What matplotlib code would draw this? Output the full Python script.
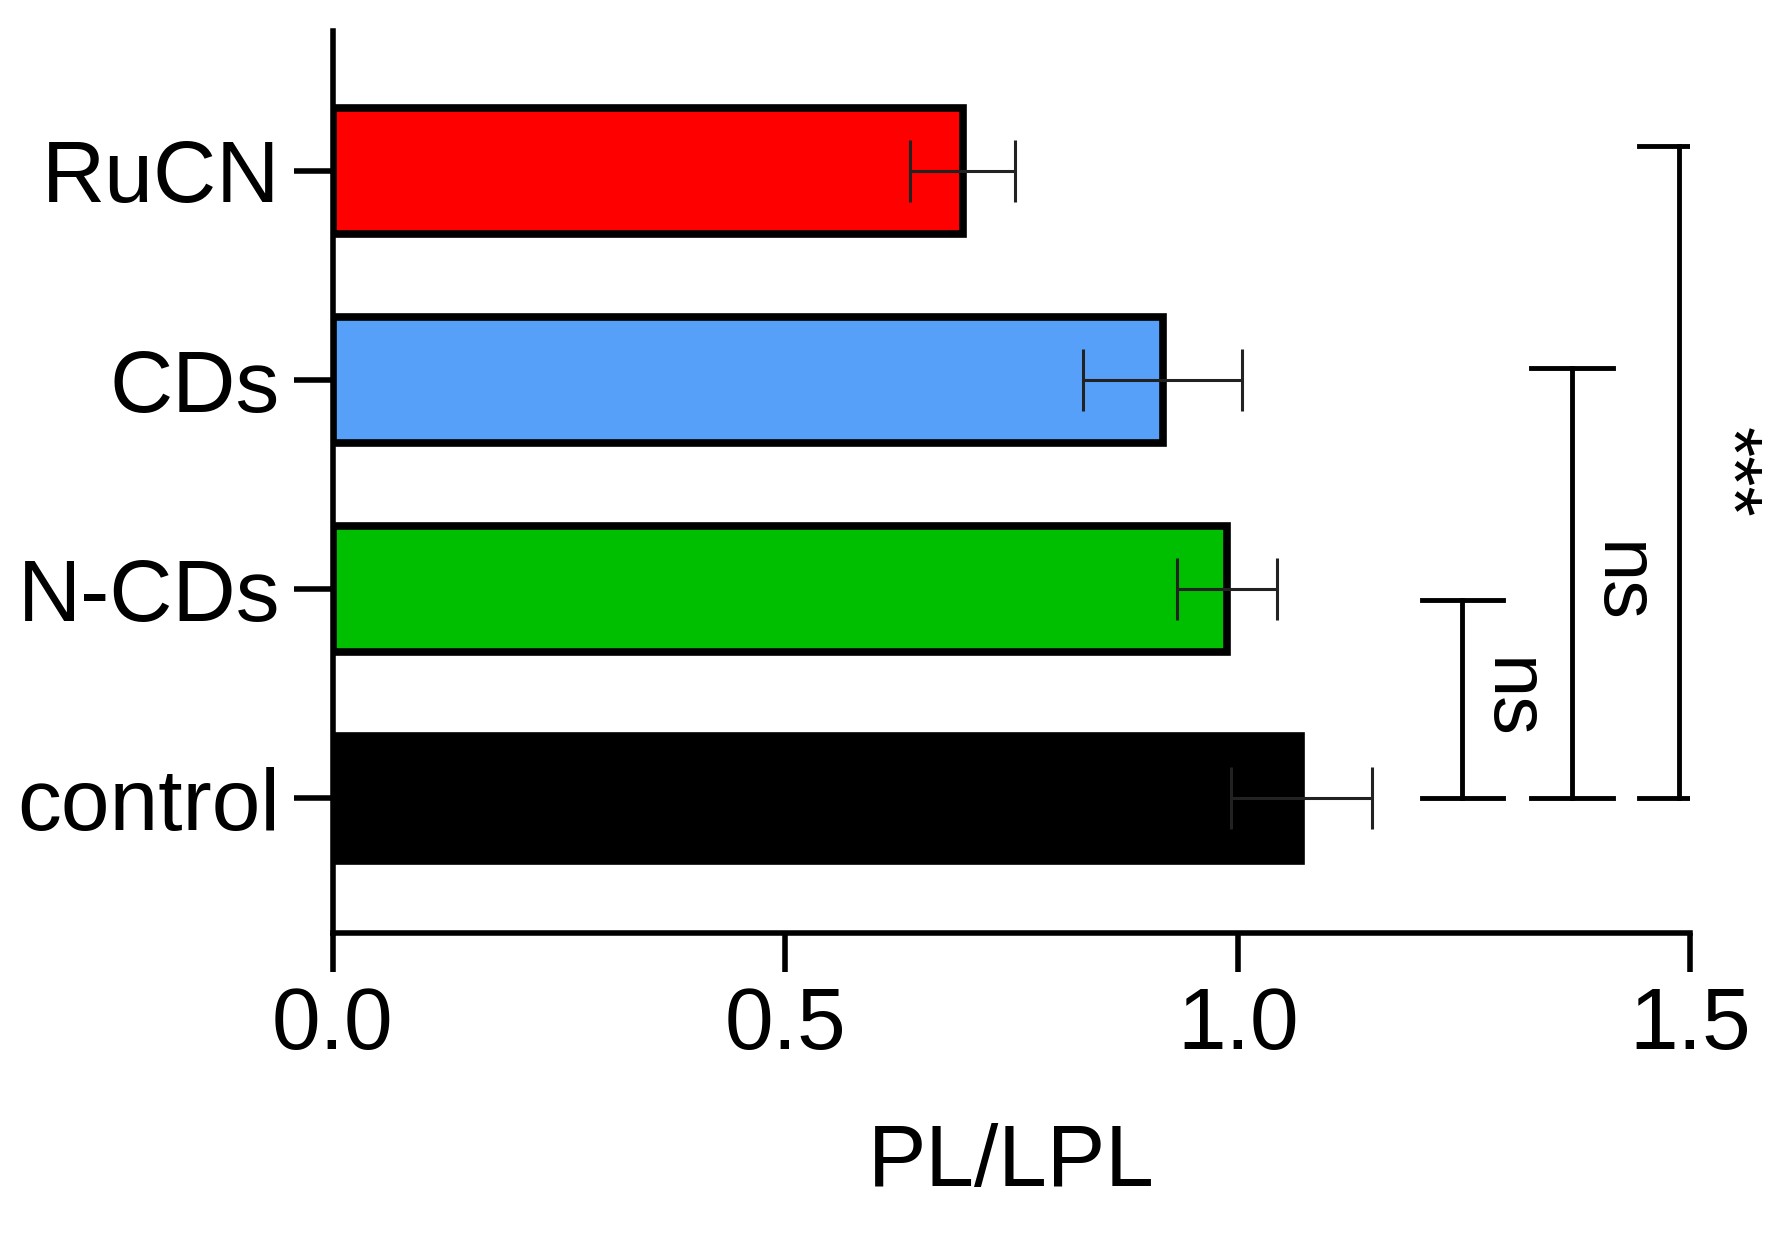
import matplotlib
matplotlib.use("Agg")
import matplotlib.pyplot as plt

categories = ["control", "N-CDs", "CDs", "RuCN"]
values = [1.07, 0.988, 0.917, 0.696]
errors = [0.078, 0.055, 0.088, 0.058]
colors = ["#000000", "#00BE00", "#56A0FA", "#FF0000"]
sig_labels = ["ns", "ns", "***"]
sig_x = [1.248, 1.369, 1.488]
sig_top = [0.95, 2.06, 3.12]

plt.rcParams['font.family'] = ['Liberation Sans', 'DejaVu Sans']
fig = plt.figure(figsize=(17.7, 12.36), dpi=100)
ax = fig.add_axes([0.188, 0.245, 0.767, 0.73])
y = list(range(len(categories)))
ax.barh(y, values, height=0.6, color=colors, edgecolor="black", linewidth=5.5)
for yi, v, e in zip(y, values, errors):
    ax.errorbar(v, yi, xerr=e, fmt="none", ecolor="#222222", elinewidth=2.2, capsize=22, capthick=2.2)
for x, top, lab in zip(sig_x, sig_top, sig_labels):
    ax.plot([x, x], [0, top], color="black", lw=3.5)
    for yy in (0, top):
        ax.plot([x - 0.045, x + 0.045], [yy, yy], color="black", lw=3.5)
    ax.text(x + 0.012, top / 2, lab, rotation=270, ha="left", va="center", fontsize=56)
ax.set_xlim(0, 1.5)
ax.set_ylim(-0.645, 3.67)
ax.set_yticks(y)
ax.set_yticklabels(categories, fontsize=63)
ax.set_xticks([0, 0.5, 1.0, 1.5])
ax.set_xticklabels(["0.0", "0.5", "1.0", "1.5"], fontsize=63)
ax.set_xlabel("PL/LPL", fontsize=63, labelpad=40)
for s in ("top", "right"):
    ax.spines[s].set_visible(False)
for s in ("left", "bottom"):
    ax.spines[s].set_linewidth(4)
ax.tick_params(width=4, length=28, pad=10)
fig.savefig("out.png", dpi=100)
